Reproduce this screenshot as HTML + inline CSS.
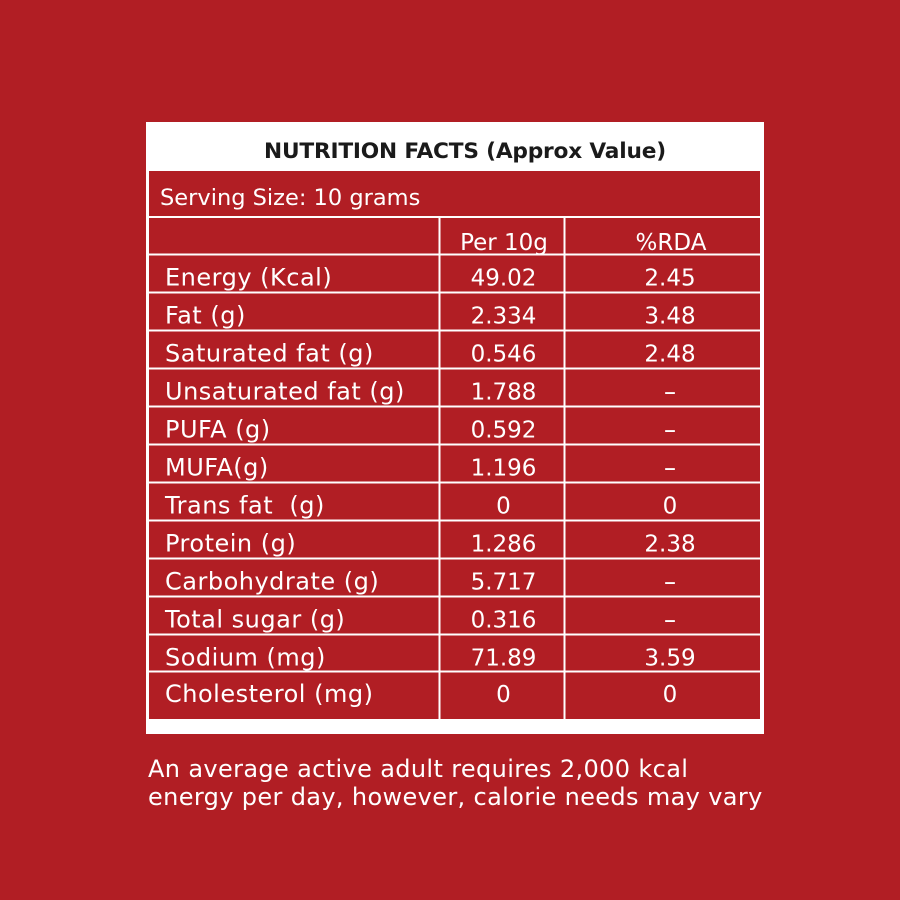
<!DOCTYPE html>
<html><head><meta charset="utf-8"><style>
html,body{margin:0;padding:0;background:#B11E24;}
svg{display:block;}
text{font-family:"DejaVu Sans","Liberation Sans",sans-serif;}
</style></head><body>
<svg width="900" height="900" viewBox="0 0 900 900" xmlns="http://www.w3.org/2000/svg">
<rect x="0" y="0" width="900" height="900" fill="#B11E24"/>
<rect x="146" y="122" width="618" height="612" fill="#ffffff"/>
<rect x="149" y="171" width="611" height="548" fill="#B11E24"/>
<g fill="#ffffff">
<rect x="149" y="216" width="611" height="2"/>
<rect x="149" y="253.5" width="611" height="2"/>
<rect x="149" y="291.5" width="611" height="2"/>
<rect x="149" y="329.5" width="611" height="2"/>
<rect x="149" y="367.5" width="611" height="2"/>
<rect x="149" y="405.5" width="611" height="2"/>
<rect x="149" y="443.5" width="611" height="2"/>
<rect x="149" y="481.5" width="611" height="2"/>
<rect x="149" y="519.5" width="611" height="2"/>
<rect x="149" y="557.5" width="611" height="2"/>
<rect x="149" y="595.5" width="611" height="2"/>
<rect x="149" y="633.5" width="611" height="2"/>
<rect x="149" y="670.5" width="611" height="2"/>
<rect x="438.5" y="217" width="2" height="502"/>
<rect x="563.5" y="217" width="2" height="502"/>
</g>
<text x="264" y="158" font-size="21.7" font-weight="bold" fill="#1a1a1a" letter-spacing="-0.2">NUTRITION FACTS (Approx Value)</text>
<text x="160" y="205" font-size="22.5" fill="#ffffff">Serving Size: 10 grams</text>
<g fill="#ffffff" font-size="23" text-anchor="middle">
<text x="504" y="250">Per 10g</text>
<text x="671" y="250">%RDA</text>
</g>
<g fill="#ffffff" font-size="24" letter-spacing="0.5">
<text x="165" y="285.5">Energy (Kcal)</text>
<text x="165" y="323.5">Fat (g)</text>
<text x="165" y="361.5">Saturated fat (g)</text>
<text x="165" y="399.5">Unsaturated fat (g)</text>
<text x="165" y="437.5">PUFA (g)</text>
<text x="165" y="475.5">MUFA(g)</text>
<text x="165" y="513.5">Trans fat&#160; (g)</text>
<text x="165" y="551.5">Protein (g)</text>
<text x="165" y="589.5">Carbohydrate (g)</text>
<text x="165" y="627.5">Total sugar (g)</text>
<text x="165" y="665.5">Sodium (mg)</text>
<text x="165" y="702">Cholesterol (mg)</text>
</g>
<g fill="#ffffff" font-size="23" text-anchor="middle">
<text x="503.5" y="285.5">49.02</text>
<text x="503.5" y="323.5">2.334</text>
<text x="503.5" y="361.5">0.546</text>
<text x="503.5" y="399.5">1.788</text>
<text x="503.5" y="437.5">0.592</text>
<text x="503.5" y="475.5">1.196</text>
<text x="503.5" y="513.5">0</text>
<text x="503.5" y="551.5">1.286</text>
<text x="503.5" y="589.5">5.717</text>
<text x="503.5" y="627.5">0.316</text>
<text x="503.5" y="665.5">71.89</text>
<text x="503.5" y="702">0</text>
<text x="670" y="285.5">2.45</text>
<text x="670" y="323.5">3.48</text>
<text x="670" y="361.5">2.48</text>
<text x="670" y="513.5">0</text>
<text x="670" y="551.5">2.38</text>
<text x="670" y="665.5">3.59</text>
<text x="670" y="702">0</text>
</g>
<g fill="#ffffff" font-size="23" text-anchor="middle" transform="translate(670,0) scale(1.6,1) translate(-670,0)">
<text x="670" y="399.5">-</text>
<text x="670" y="437.5">-</text>
<text x="670" y="475.5">-</text>
<text x="670" y="589.5">-</text>
<text x="670" y="627.5">-</text>
</g>
<g fill="#ffffff" font-size="24" letter-spacing="0.36">
<text x="148" y="777">An average active adult requires 2,000 kcal</text>
<text x="148" y="805">energy per day, however, calorie needs may vary</text>
</g>
</svg>
</body></html>
